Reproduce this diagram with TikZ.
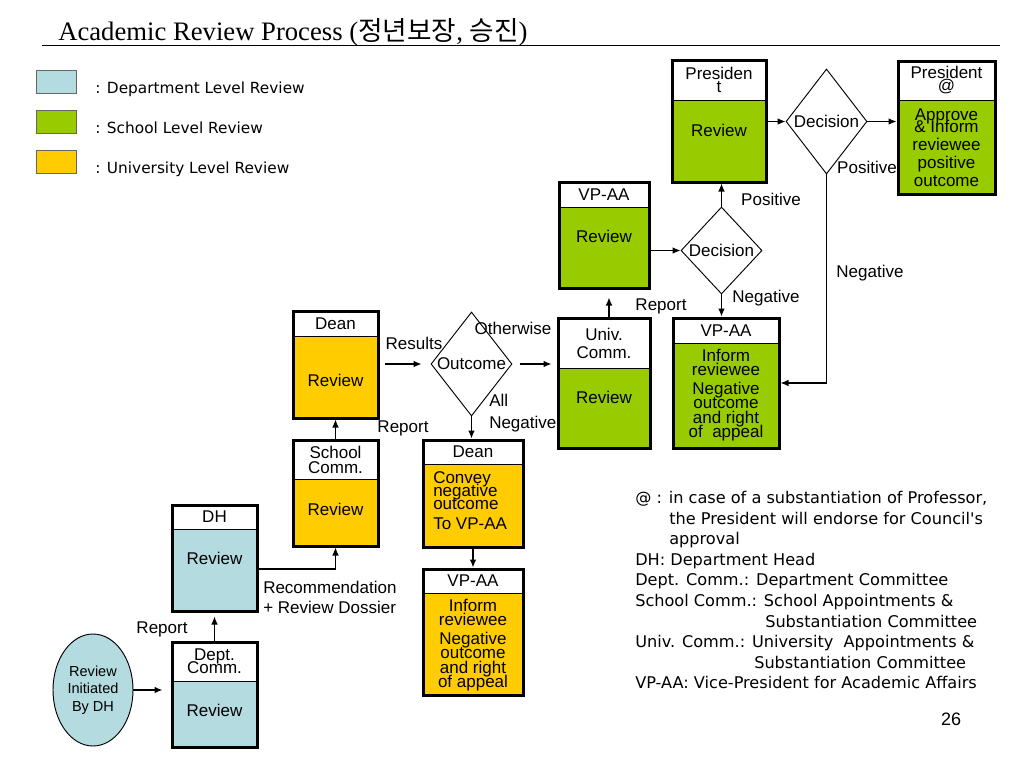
\documentclass[tikz,border=0pt]{standalone}
\usepackage{fontspec}
\setmainfont{Liberation Sans}
\newfontfamily\titlefont{Liberation Serif}
\newfontfamily\cjk{Noto Sans CJK KR}
\newfontfamily\notefont{DejaVu Sans}
\usetikzlibrary{arrows.meta,positioning,fit,shapes.geometric}

\definecolor{deptblue}{RGB}{180,219,223}
\definecolor{schoolgreen}{RGB}{153,204,0}
\definecolor{univorange}{RGB}{255,204,0}

\tikzset{
	box font/.style={font={\fontsize{12.75}{#1}\selectfont\lineskiplimit=-20pt}},
	box font/.default=13.5,
	stage head/.style={draw, fill=white, line width=.6pt, inner sep=0pt, outer sep=0pt},
	stage body/.style={draw, line width=.6pt, inner sep=0pt, outer sep=0pt},
	stage frame/.style={draw, line width=2.25pt, inner sep=0pt},
	box text/.style={inner sep=0pt, align=center, box font=#1},
	box text/.default=13.5,
	decision/.style={diamond, draw, line width=.7pt, inner sep=0pt, box font},
	flow/.style={-{Latex[length=6pt,width=5pt]}, line width=.9pt},
	lbl/.style={inner sep=0pt, anchor=base, box font},
	key box/.style={draw=black!60, line width=.6pt, inner sep=0pt},
	key text/.style={inner sep=0pt, anchor=base west, font={\notefont\fontsize{11.5}{14}\selectfont}},
}
% name, x1, y1, x2, y of divider, y2, colour, header
\newcommand{\stagebox}[8]{%
	\node[stage head, fit={(#2,#3) (#4,#5)}] (#1 head) {};
	\node[stage body, fill=#7, fit={(#2,#5) (#4,#6)}] (#1 body) {};
	\node[stage frame, fit=(#1 head) (#1 body)] (#1) {};
	\node[box text] (#1 title) at (#1 head.center) {#8};
}

\begin{document}
\begin{tikzpicture}[x=.75pt, y=-.75pt]
	\path[fill=white, use as bounding box] (0,0) rectangle (1024,768);

	\node[inner sep=0pt, anchor=base west, font={\titlefont\fontsize{20}{23}\selectfont}] (title) at (58,40)
	  {Academic Review Process ({\cjk 정년보장}, {\cjk 승진})};
	\draw[line width=.75pt] (42,45) -- (1000,45);

	% legend
	\node[key box, fill=deptblue, fit={(36,70) (76,93)}] (key dept) {};
	\node[key box, fill=schoolgreen, fit={(36,110) (76,133)}] (key school) {};
	\node[key box, fill=univorange, fit={(36,150) (76,173)}] (key univ) {};
	\node[key text] (key dept text) at ([xshift=14pt]key dept.south east) {: Department Level Review};
	\node[key text] (key school text) at ([xshift=14pt]key school.south east) {: School Level Review};
	\node[key text] (key univ text) at ([xshift=14pt]key univ.south east) {: University Level Review};

	% review stages
	\stagebox{dept}{172}{642}{257}{681}{747}{deptblue}{Dept.\\[-3.75pt]Comm.}
	\stagebox{dh}{172}{505}{257}{529}{611}{deptblue}{DH}
	\stagebox{school}{293}{440}{378}{479}{546}{univorange}{School\\[-2.25pt]Comm.}
	\stagebox{dean}{293}{311}{378}{336}{418}{univorange}{Dean}
	\stagebox{deanneg}{423}{440}{523}{464}{547}{univorange}{Dean}
	\stagebox{vpb}{423}{569}{523}{593}{695}{univorange}{VP-AA}
	\stagebox{univ}{558}{318}{650}{368}{448}{schoolgreen}{Univ.\\Comm.}
	\stagebox{vpu}{559}{182}{649}{207}{288}{schoolgreen}{VP-AA}
	\stagebox{vpl}{673}{318}{779}{343}{448}{schoolgreen}{VP-AA}
	\stagebox{pres}{672}{60}{766}{100}{182}{schoolgreen}{Presiden\\[-3.75pt]t}
	\stagebox{presat}{898}{61}{995}{100}{194}{schoolgreen}{President\\[-3.75pt]@}

	\node[box text, below=17.25pt of dept body.north] (dept text) {Review};
	\node[box text, below=17.25pt of dh body.north] (dh text) {Review};
	\node[box text, below=18pt of school body.north] (school text) {Review};
	\node[box text, below=28.5pt of dean body.north] (dean text) {Review};
	\node[box text=9.75, align=left, below right=5.25pt and 7.5pt of deanneg body.north west] (deanneg text)
	  {Convey\\negative\\outcome\\[5.25pt]To VP-AA};
	\node[box text=10.65, below=4.5pt of vpb body.north] (vpb text)
	  {Inform\\reviewee\\[3.6pt]Negative\\outcome\\and right\\of appeal};
	\node[box text, below=17.25pt of univ body.north] (univ text) {Review};
	\node[box text, below=17.25pt of vpu body.north] (vpu text) {Review};
	\node[box text=10.65, below=4.5pt of vpl body.north] (vpl text)
	  {Inform\\reviewee\\[3.6pt]Negative\\outcome\\and right\\of\ \ appeal};
	\node[box text, below=18pt of pres body.north] (pres text) {Review};
	\node[box text, below=6.75pt of presat body.north] (presat text)
	  {Approve\\[-4.5pt]\& Inform\\reviewee\\positive\\outcome};

	\node[ellipse, draw, fill=deptblue, line width=.7pt, inner sep=0pt, minimum width=60pt, minimum height=84pt,
	  align=center, font={\fontsize{10.9}{13.1}\selectfont}] (init) at (93,690) {Review\\Initiated\\By DH};

	\node[decision, minimum width=60.75pt, minimum height=78pt] (outcome) at (471.5,364) {\makebox[0pt]{Outcome}};
	\node[decision, minimum width=60.75pt, minimum height=65.25pt] (dec2) at (721.5,250.5) {\makebox[0pt]{Decision}};
	\node[decision, minimum width=60.75pt, minimum height=78.75pt] (dec1) at (826.5,121.5) {\makebox[0pt]{Decision}};

	% connectors
	\draw[flow, shorten >=6pt] (init.east) -- (init.east -| dept.west);
	\draw[flow, shorten >=3pt] (dept.north) -- (dh.south);
	\draw[flow] ([yshift=-8.25pt]dh.east) -| (school.south);
	\draw[flow] (school.north) -- (dean.south);
	\draw[flow, shorten <=3.75pt, shorten >=6.75pt] (outcome.west -| dean.east) -- (outcome.west);
	\draw[flow] (outcome.south) -- (outcome.south |- deanneg.north);
	\draw[flow] (deanneg.south) -- (vpb.north);
	\draw[flow, shorten <=6pt, shorten >=3.75pt] (outcome.east) -- (outcome.east -| univ.west);
	\draw[flow, shorten >=6pt] ([xshift=3.75pt]univ.north) -- ([xshift=3.75pt]univ.north |- vpu.south);
	\draw[flow] (dec2.west -| vpu.east) -- (dec2.west);
	\draw[flow] (dec2.north) -- (dec2.north |- pres.south);
	\draw[flow] (dec2.south) -- (dec2.south |- vpl.north);
	\draw[flow] (dec1.west -| pres.east) -- (dec1.west);
	\draw[flow] (dec1.east) -- (dec1.east -| presat.west);
	\draw[flow] (dec1.south) |- (vpl.east);

	% connector labels
	\node[lbl] (report dept) at (162,633) {Report};
	\node[lbl, anchor=north west, align=left] (dossier) at (263,581) {Recommendation\\[1.5pt]+ Review Dossier};
	\node[lbl] (report school) at (403,432) {Report};
	\node[lbl] (results) at (414,349) {Results};
	\node[lbl] (otherwise) at (513,334) {Otherwise};
	\node[lbl, anchor=north west, align=left] (all negative) at (489,394) {All\\[3pt]Negative};
	\node[lbl] (report univ) at (661,310) {Report};
	\node[lbl] (dec2 positive) at (771,205) {Positive};
	\node[lbl] (dec2 negative) at (766,302) {Negative};
	\node[lbl] (dec1 positive) at (867,173) {Positive};
	\node[lbl] (dec1 negative) at (870,277) {Negative};

	\node[inner sep=0pt, anchor=north west, align=left, font={\notefont\fontsize{12.1}{15.45}\selectfont}] (notes) at (635,491)
	  {@ : in case of a substantiation of Professor,\\
	   \hspace*{25.5pt}the President will endorse for Council's\\
	   \hspace*{25.5pt}approval\\
	   DH: Department Head\\
	   Dept. Comm.: Department Committee\\
	   School Comm.: School Appointments \&\\
	   \hspace*{97.5pt}Substantiation Committee\\
	   Univ. Comm.: University\ \ Appointments \&\\
	   \hspace*{89.25pt}Substantiation Committee\\
	   VP-AA: Vice-President for Academic Affairs};
	\node[inner sep=0pt, anchor=base, font={\fontsize{13.5}{16}\selectfont}] (page) at (951,725) {26};
\end{tikzpicture}
\end{document}
